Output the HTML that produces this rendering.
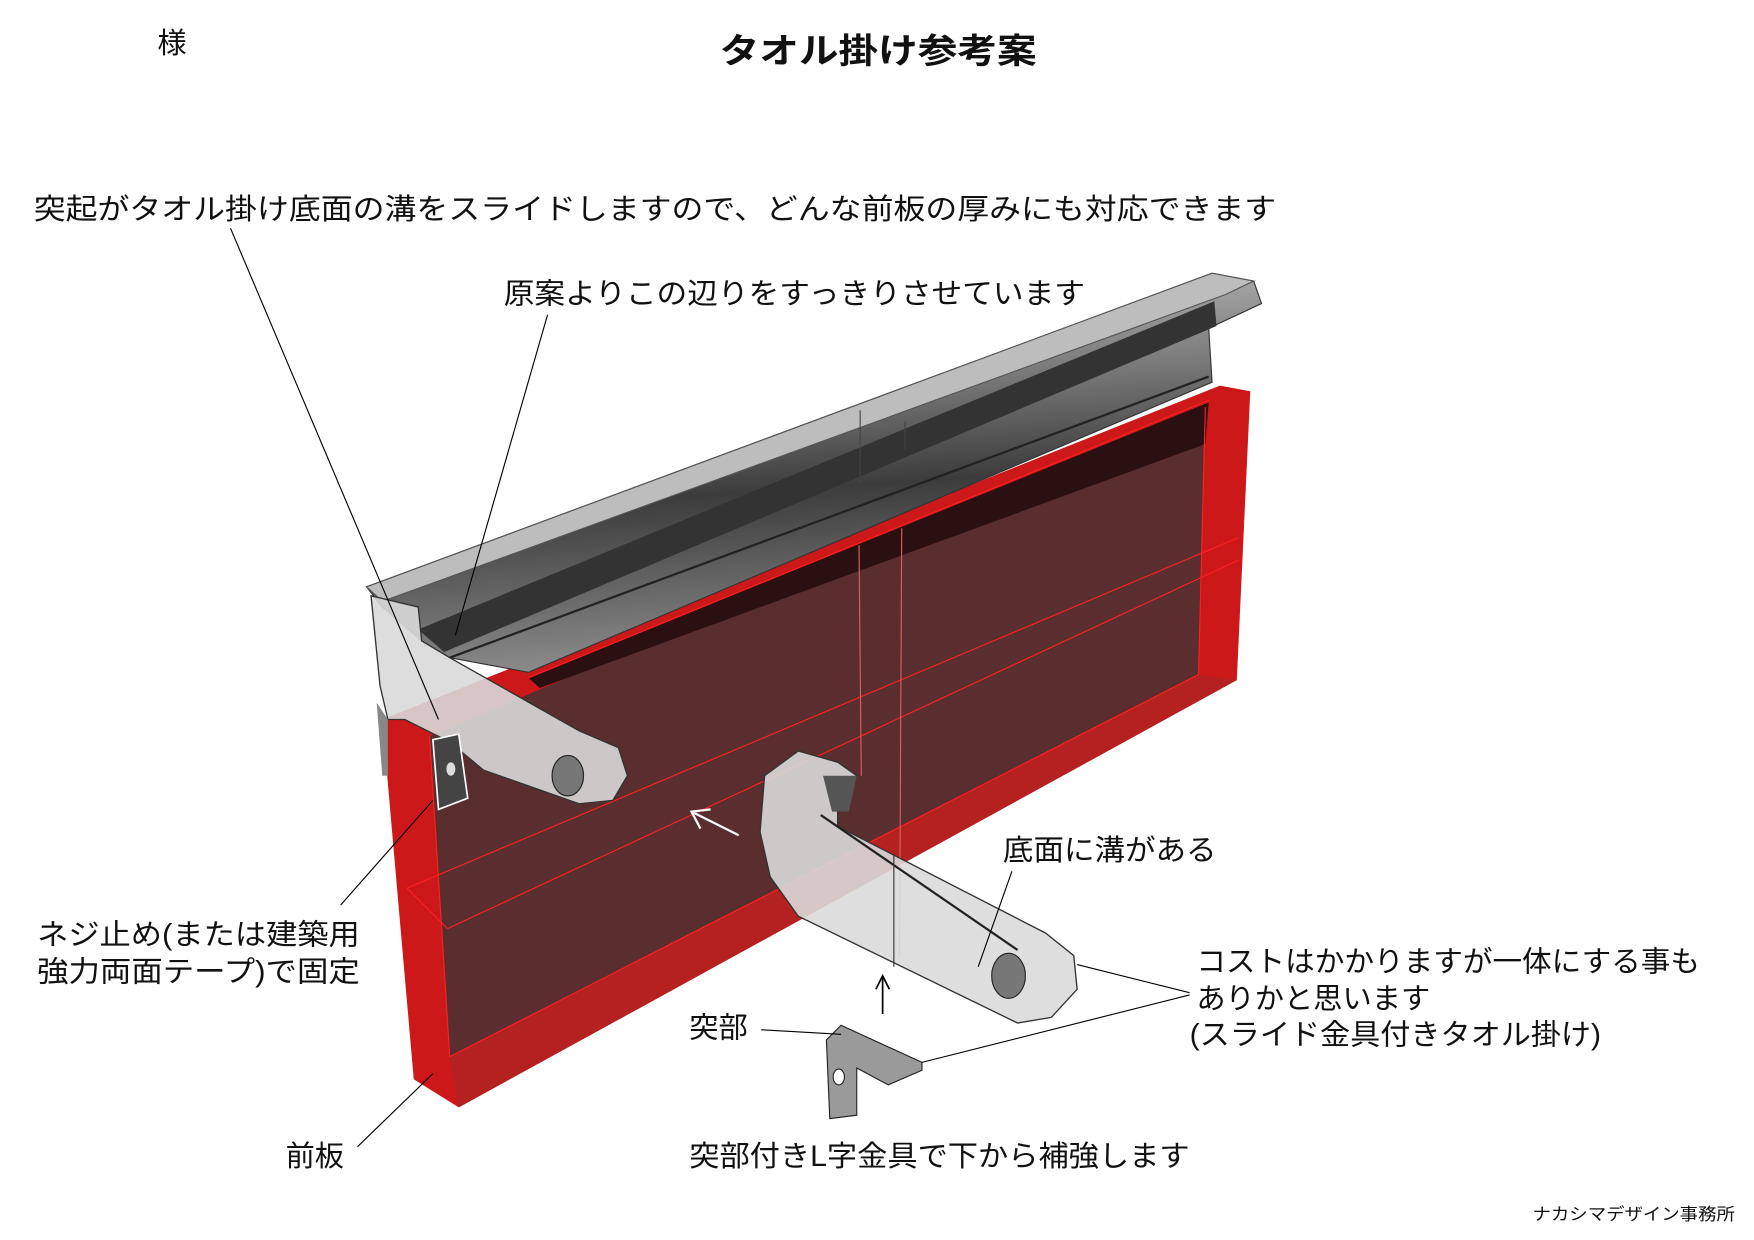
<!DOCTYPE html>
<html><head><meta charset="utf-8"><style>
html,body{margin:0;padding:0;background:#fff;width:1754px;height:1240px;overflow:hidden}
svg{display:block}
text{font-family:"Liberation Sans","Noto Sans CJK JP",sans-serif;fill:#111}
</style></head><body>
<svg width="1754" height="1240" viewBox="0 0 1560 1103" preserveAspectRatio="none" xmlns="http://www.w3.org/2000/svg">
<defs>
<linearGradient id="rail" x1="0" y1="0" x2="0.15" y2="1">
<stop offset="0" stop-color="#c8c8c8"/><stop offset="0.35" stop-color="#7a7a7a"/><stop offset="0.6" stop-color="#3c3c3c"/><stop offset="1" stop-color="#8a8a8a"/></linearGradient>
</defs>
<text x="140" y="47" font-size="26">様</text>
<text x="640" y="56" font-size="31" font-weight="bold" textLength="282" lengthAdjust="spacingAndGlyphs">タオル掛け参考案</text>

<!-- board -->
<polygon points="340,640 1085,343 1112,348 1100,605 408,985 368,960" fill="#cc1818"/>
<polygon points="382,655 1072,362 1066,600 400,940" fill="#5a2d2f"/>
<polygon points="470,603 1075,358 1072,395 480,612" fill="#2a1010"/>
<polygon points="400,940 1066,600 1100,605 408,985" fill="#b52020"/>
<g stroke="#ff2020" stroke-width="1" fill="none">
<line x1="362" y1="790" x2="1102" y2="478"/>
<line x1="398" y1="826" x2="1102" y2="498"/>
<line x1="398" y1="826" x2="362" y2="790"/>
<line x1="400" y1="940" x2="1066" y2="600"/>
<line x1="470" y1="603" x2="1075" y2="356"/>
<line x1="802" y1="470" x2="800" y2="850" stroke="#e06060"/>
<line x1="764" y1="485" x2="766" y2="690" stroke="#e06060"/>
<line x1="382" y1="655" x2="400" y2="940"/>
<line x1="1072" y1="362" x2="1066" y2="600"/>
</g>

<!-- rail -->
<polygon points="326,522 1078,243 1115,250 1122,270 1075,292 1078,340 470,598 400,585 375,570 340,540" fill="url(#rail)" stroke="#333" stroke-width="1"/>
<polygon points="326,522 1078,243 1115,250 1090,262 340,535" fill="#bdbdbd" stroke="#555" stroke-width="1"/>
<polygon points="372,560 1080,268 1082,290 395,580" fill="#333"/>
<line x1="400" y1="585" x2="1075" y2="335" stroke="#222" stroke-width="2"/>
<line x1="765" y1="365" x2="765" y2="430" stroke="#444"/>
<line x1="805" y1="375" x2="805" y2="400" stroke="#444"/>

<!-- left bracket -->
<polygon points="330,530 372,540 375,570 400,585 515,650 550,665 558,690 545,712 515,715 430,685 400,660 360,640 345,640 338,610" fill="#d9d9d9" fill-opacity="0.9" stroke="#333" stroke-width="1.2"/>
<ellipse cx="505" cy="690" rx="14" ry="18" fill="#777" stroke="#222"/>
<polygon points="385,658 408,653 416,710 390,720" fill="#444" stroke="#fff" stroke-width="1.5"/>
<ellipse cx="401" cy="684" rx="4" ry="6" fill="#ddd"/>
<polygon points="335,625 345,640 345,690 340,690" fill="#888"/>

<!-- middle bracket -->
<polygon points="680,690 710,668 745,678 762,690 745,720 745,735 930,830 955,850 958,880 935,905 905,910 710,815 685,780 676,740" fill="#dadada" fill-opacity="0.9" stroke="#333" stroke-width="1.2"/>
<polygon points="732,690 762,690 755,722 740,722" fill="#555"/>
<ellipse cx="897" cy="868" rx="15" ry="20" fill="#777" stroke="#222"/>
<line x1="730" y1="725" x2="905" y2="845" stroke="#222" stroke-width="2"/>
<line x1="795" y1="760" x2="795" y2="860" stroke="#333"/>

<!-- small L fitting -->
<polygon points="748,912 820,945 820,952 790,965 762,950 762,992 738,995 735,925" fill="#9a9a9a" stroke="#222"/>
<ellipse cx="746" cy="958" rx="5" ry="7" fill="#fff" stroke="#222"/>

<!-- arrows -->
<g stroke="#fff" stroke-width="2" fill="none"><line x1="657" y1="743" x2="615" y2="722"/><polyline points="632,720 615,722 623,737"/></g>
<g stroke="#000" stroke-width="1.5" fill="none"><line x1="785" y1="902" x2="785" y2="868"/><polyline points="779,880 785,868 791,880"/></g>

<!-- leaders -->
<g stroke="#000" stroke-width="1" fill="none">
<line x1="205" y1="203" x2="390" y2="640"/>
<line x1="487" y1="280" x2="405" y2="565"/>
<line x1="303" y1="805" x2="385" y2="712"/>
<line x1="318" y1="1020" x2="385" y2="955"/>
<line x1="900" y1="775" x2="870" y2="860"/>
<line x1="958" y1="858" x2="1058" y2="883"/>
<line x1="820" y1="945" x2="1058" y2="885"/>
<line x1="677" y1="916" x2="748" y2="920"/>
</g>

<g font-size="26" lengthAdjust="spacingAndGlyphs">
<text x="30" y="195" textLength="1105" lengthAdjust="spacingAndGlyphs">突起がタオル掛け底面の溝をスライドしますので、どんな前板の厚みにも対応できます</text>
<text x="448" y="270" textLength="517" lengthAdjust="spacingAndGlyphs">原案よりこの辺りをすっきりさせています</text>
<text x="892" y="765" textLength="190" lengthAdjust="spacingAndGlyphs">底面に溝がある</text>
<text x="33" y="840" textLength="287" lengthAdjust="spacingAndGlyphs">ネジ止め(または建築用</text>
<text x="33" y="873" textLength="287" lengthAdjust="spacingAndGlyphs">強力両面テープ)で固定</text>
<text x="1064" y="864" textLength="448" lengthAdjust="spacingAndGlyphs">コストはかかりますが一体にする事も</text>
<text x="1064" y="897" textLength="208" lengthAdjust="spacingAndGlyphs">ありかと思います</text>
<text x="1058" y="929" textLength="366" lengthAdjust="spacingAndGlyphs">(スライド金具付きタオル掛け)</text>
<text x="613" y="923">突部</text>
<text x="254" y="1037">前板</text>
<text x="613" y="1037" textLength="445" lengthAdjust="spacingAndGlyphs">突部付きL字金具で下から補強します</text>
</g>
<text x="1363" y="1085" font-size="15" textLength="180" lengthAdjust="spacingAndGlyphs">ナカシマデザイン事務所</text>
</svg>
</body></html>
